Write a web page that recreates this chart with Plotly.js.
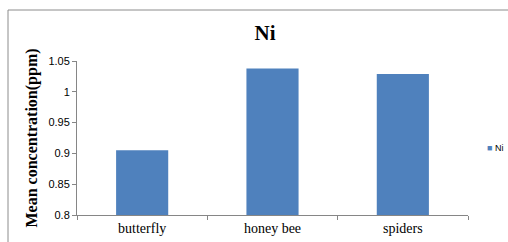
<!DOCTYPE html>
<html>
<head>
<meta charset="utf-8">
<script src="https://cdn.plot.ly/plotly-3.0.1.min.js"></script>
<style>html,body{margin:0;padding:0;background:#fff;}#chart{width:508px;height:242px;}</style>
</head>
<body>
<div id="chart"></div>
<script>
const categories = ["butterfly", "honey bee", "spiders"];
const niValues = [0.905, 1.038, 1.029];
const seriesName = "Ni";
const yTickVals = [0.8, 0.85, 0.9, 0.95, 1, 1.05];
const yTickText = ["0.8", "0.85", "0.9", "0.95", "1", "1.05"];
const barColor = "#4F81BD";

const data = [{
  type: "bar",
  name: seriesName,
  x: categories,
  y: niValues,
  width: 0.4,
  marker: {color: barColor},
  hoverinfo: "none",
  showlegend: false
}];

const layout = {
  width: 508, height: 242,
  margin: {l: 77, r: 40, t: 61, b: 27},
  paper_bgcolor: "#fff", plot_bgcolor: "#fff",
  title: {text: "<b>" + seriesName + "</b>", font: {family: "Liberation Serif", size: 21, color: "#000"},
          x: (265 - 77) / 391, xref: "paper", xanchor: "center", y: 1 - 33 / 242, yref: "container", yanchor: "middle",
          automargin: false},
  xaxis: {
    type: "category",
    showline: true, linecolor: "#868686", linewidth: 1,
    ticks: "outside", tickson: "boundaries", ticklen: 4, tickcolor: "#868686",
    tickfont: {family: "Liberation Serif", size: 14, color: "#000"},
    showgrid: false, zeroline: false, fixedrange: true
  },
  yaxis: {
    range: [0.8, 1.05],
    tickvals: yTickVals, ticktext: yTickText,
    showline: true, linecolor: "#868686", linewidth: 1,
    ticks: "outside", ticklen: 4, tickcolor: "#868686",
    tickfont: {family: "Liberation Sans", size: 11, color: "#000"},
    showgrid: false, zeroline: false, fixedrange: true,
    title: {text: "<b>Mean concentration(ppm)</b>", font: {family: "Liberation Serif", size: 16, color: "#000"}, standoff: 6}
  },
  showlegend: false,
  annotations: [{
    xref: "paper", yref: "paper",
    x: (485 - 77) / 391, y: (215 - 148) / 154,
    xanchor: "left", yanchor: "middle", showarrow: false,
    text: "<span style='color:" + barColor + "'>■</span> " + seriesName,
    font: {family: "Liberation Sans", size: 9, color: "#000"}
  }],
  shapes: [{
    type: "rect", xref: "paper", yref: "paper",
    x0: (8 - 77) / 391, x1: (520 - 77) / 391,
    y0: -0.5, y1: (215 - 10) / 154,
    line: {color: "#8c8c8c", width: 1}, fillcolor: "rgba(0,0,0,0)", layer: "below"
  }]
};

Plotly.newPlot("chart", data, layout, {displayModeBar: false, staticPlot: true});
</script>
</body>
</html>
